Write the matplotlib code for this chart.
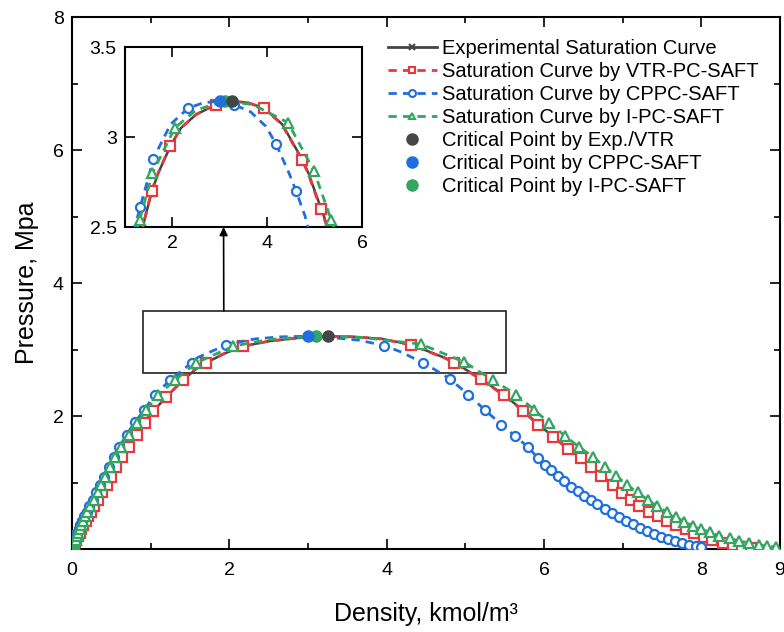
import numpy as np
import matplotlib
matplotlib.use('Agg')
import matplotlib.pyplot as plt
from matplotlib.lines import Line2D
from matplotlib.patches import Rectangle
from matplotlib.ticker import MultipleLocator, FormatStrFormatter

plt.rcParams['font.family'] = ['Liberation Sans', 'DejaVu Sans']

# ---- data (density kmol/m3, pressure MPa) ----
# levels of pressure along the vapour branch
p_vap = [0.02, 0.04, 0.07, 0.10, 0.14, 0.19, 0.24, 0.30, 0.36, 0.42, 0.49, 0.56, 0.64, 0.74,
         0.85, 0.96, 1.09, 1.23, 1.38, 1.53, 1.71, 1.89, 2.07, 2.29, 2.54, 2.80, 3.05]

# experimental
rho_exp = [0.008, 0.016, 0.027, 0.040, 0.057, 0.076, 0.097, 0.121, 0.146, 0.173, 0.206, 0.242,
           0.282, 0.332, 0.387, 0.442, 0.502, 0.567, 0.642, 0.722, 0.832, 0.932, 1.032, 1.202,
           1.412, 1.702, 2.18,
           4.32, 4.87, 5.21, 5.50, 5.74, 5.93, 6.12, 6.31, 6.48, 6.61, 6.74, 6.89, 7.00, 7.12,
           7.22, 7.35, 7.46, 7.58, 7.69, 7.81, 7.92, 8.05, 8.15, 8.28, 8.41, 8.53, 8.64]
p_exp = p_vap + [3.07, 2.80, 2.55, 2.31, 2.08, 1.87, 1.69, 1.51, 1.37, 1.24, 1.10, 0.96, 0.84,
                 0.74, 0.64, 0.56, 0.49, 0.42, 0.36, 0.30, 0.24, 0.18, 0.14, 0.09, 0.06, 0.03,
                 0.015]
rho_exp_zoom = [1.57, 1.96, 2.92, 3.94, 4.75, 5.14]
p_exp_zoom = [2.70, 2.95, 3.18, 3.16, 2.87, 2.60]
rho_exp_ext = [0.0, 2.5, 3.6, 8.75]
p_exp_ext = [0.0, 3.125, 3.19, 0.0]

# VTR-PC-SAFT
rho_vtr = [0.008, 0.016, 0.027, 0.040, 0.056, 0.075, 0.096, 0.12, 0.145, 0.172, 0.205, 0.24,
           0.28, 0.33, 0.385, 0.44, 0.50, 0.565, 0.64, 0.72, 0.83, 0.93, 1.03, 1.20, 1.41,
           1.70, 2.18,
           4.31, 4.86, 5.20, 5.49, 5.73, 5.92, 6.11, 6.30, 6.47, 6.60, 6.73, 6.88, 6.99, 7.11,
           7.21, 7.34, 7.45, 7.57, 7.68, 7.80, 7.91, 8.04, 8.14, 8.27, 8.40, 8.52, 8.63]
p_vtr = p_vap + [3.07, 2.80, 2.55, 2.31, 2.08, 1.87, 1.69, 1.51, 1.37, 1.24, 1.10, 0.96, 0.84,
                 0.74, 0.64, 0.56, 0.49, 0.42, 0.36, 0.30, 0.24, 0.18, 0.14, 0.09, 0.06, 0.03,
                 0.015]
rho_vtr_zoom = [1.56, 1.95, 2.91, 3.93, 4.74, 5.13]
p_vtr_zoom = [2.70, 2.95, 3.18, 3.16, 2.87, 2.60]
rho_vtr_ext = [0.0, 2.5, 3.6, 8.75]
p_vtr_ext = [0.0, 3.125, 3.19, 0.0]

# CPPC-SAFT
rho_cppc = [0.005, 0.011, 0.019, 0.028, 0.040, 0.054, 0.070, 0.089, 0.108, 0.13, 0.157, 0.185,
            0.22, 0.262, 0.31, 0.355, 0.405, 0.465, 0.53, 0.60, 0.695, 0.80, 0.92, 1.05, 1.25,
            1.52, 1.96,
            3.97, 4.46, 4.80, 5.04, 5.25, 5.46, 5.63, 5.80, 5.92, 6.01, 6.09, 6.18, 6.26, 6.35,
            6.43, 6.51, 6.60, 6.68, 6.77, 6.86, 6.95, 7.04, 7.13, 7.22, 7.31, 7.40, 7.49, 7.58,
            7.67, 7.76, 7.85, 7.93, 8.00]
p_cppc = [0.02, 0.04, 0.07, 0.10, 0.14, 0.19, 0.24, 0.30, 0.36, 0.42, 0.49, 0.56, 0.64, 0.74,
          0.85, 0.96, 1.09, 1.23, 1.38, 1.53, 1.72, 1.91, 2.09, 2.32, 2.54, 2.80, 3.07,
          3.06, 2.80, 2.56, 2.32, 2.09, 1.87, 1.70, 1.53, 1.37, 1.27, 1.19, 1.10, 1.02, 0.94,
          0.87, 0.80, 0.73, 0.67, 0.60, 0.54, 0.48, 0.42, 0.37, 0.32, 0.27, 0.22, 0.18, 0.145,
          0.115, 0.09, 0.065, 0.05, 0.035]
rho_cppc_zoom = [1.32, 1.60, 2.33, 3.30, 4.19, 4.61]
p_cppc_zoom = [2.61, 2.88, 3.16, 3.18, 2.96, 2.70]
rho_cppc_ext = [0.0, 2.65, 3.65, 8.05]
p_cppc_ext = [0.0, 3.19, 3.14, 0.0]

# I-PC-SAFT
rho_ipc = [0.006, 0.013, 0.022, 0.032, 0.045, 0.060, 0.077, 0.097, 0.118, 0.14, 0.168, 0.197,
           0.232, 0.275, 0.325, 0.37, 0.42, 0.48, 0.55, 0.62, 0.72, 0.83, 0.94, 1.10, 1.31,
           1.58, 2.05,
           4.44, 4.99, 5.35, 5.65, 5.88, 6.07, 6.27, 6.45, 6.62, 6.77, 6.92, 7.06, 7.19, 7.32,
           7.44, 7.56, 7.68, 7.78, 7.89, 8.00, 8.11, 8.23, 8.36, 8.48, 8.61, 8.74, 8.84, 8.95]
p_ipc = [0.02, 0.04, 0.07, 0.10, 0.14, 0.19, 0.24, 0.30, 0.36, 0.42, 0.49, 0.56, 0.64, 0.74,
         0.85, 0.96, 1.09, 1.23, 1.38, 1.53, 1.72, 1.89, 2.09, 2.32, 2.54, 2.80, 3.05,
         3.08, 2.81, 2.54, 2.32, 2.09, 1.89, 1.70, 1.53, 1.39, 1.24, 1.10, 0.96, 0.85, 0.74,
         0.64, 0.56, 0.48, 0.41, 0.35, 0.30, 0.25, 0.20, 0.16, 0.12, 0.09, 0.06, 0.045, 0.03]
rho_ipc_zoom = [1.31, 1.58, 2.05, 4.44, 4.99, 5.35]
p_ipc_zoom = [2.54, 2.80, 3.05, 3.08, 2.81, 2.54]
rho_ipc_ext = [0.0, 2.5, 3.7, 9.0]
p_ipc_ext = [0.0, 3.15, 3.18, 0.02]

# critical points
rho_crit = [3.25, 3.00, 3.10]
p_crit = [3.20, 3.20, 3.20]

GRAY, RED, BLUE, GREEN = '#454545', '#e8383d', '#1f6fdc', '#33a661'

series = [
    dict(label='Experimental Saturation Curve', color=GRAY, ls='-', marker='x', ms=6, mfc=GRAY,
         m=(rho_exp, p_exp), z=(rho_exp_zoom, p_exp_zoom), e=(rho_exp_ext, p_exp_ext)),
    dict(label='Saturation Curve by VTR-PC-SAFT', color=RED, ls=(0, (3, 2.2)), marker='s', ms=6.5,
         mfc='white', m=(rho_vtr, p_vtr), z=(rho_vtr_zoom, p_vtr_zoom), e=(rho_vtr_ext, p_vtr_ext)),
    dict(label='Saturation Curve by CPPC-SAFT', color=BLUE, ls=(0, (3, 2.2)), marker='o', ms=6.5,
         mfc='white', m=(rho_cppc, p_cppc), z=(rho_cppc_zoom, p_cppc_zoom),
         e=(rho_cppc_ext, p_cppc_ext)),
    dict(label='Saturation Curve by I-PC-SAFT', color=GREEN, ls=(0, (3, 2.2)), marker='^', ms=7.5,
         mfc='white', m=(rho_ipc, p_ipc), z=(rho_ipc_zoom, p_ipc_zoom), e=(rho_ipc_ext, p_ipc_ext)),
]
crit_labels = ['Critical Point by Exp./VTR', 'Critical Point by CPPC-SAFT',
               'Critical Point by I-PC-SAFT']
crit_colors = [GRAY, BLUE, GREEN]


def full_curve(s, k):
    # line goes through every point read for the series, ordered by density
    x = np.concatenate([s['m'][0], s['z'][0], s['e'][0], [rho_crit[k]]])
    y = np.concatenate([s['m'][1], s['z'][1], s['e'][1], [p_crit[k]]])
    x, idx = np.unique(x, return_index=True)
    return x, y[idx]


crit_of = [0, 0, 1, 2]


def draw(ax, key, ms_scale=1.0):
    for k, s in enumerate(series):
        x, y = full_curve(s, crit_of[k])
        ax.plot(x, y, color=s['color'], ls=s['ls'], lw=2 if k else 1.8, zorder=2 + k)
        mx, my = s[key]
        ax.plot(mx, my, ls='none', marker=s['marker'], ms=s['ms'] * ms_scale, mfc=s['mfc'],
                mec=s['color'], mew=1.6, zorder=2 + k)
    for k in range(3):
        ax.plot(rho_crit[k], p_crit[k], 'o', color=crit_colors[k], ms=8 * ms_scale, zorder=10 - k)


def style(ax):
    ax.tick_params(which='both', direction='in', top=True, right=True, labelsize=14, width=1.2,
                   pad=6)
    ax.tick_params(which='major', length=7)
    ax.tick_params(which='minor', length=4)
    for sp in ax.spines.values():
        sp.set_linewidth(1.5)


fig = plt.figure(figsize=(7.84, 6.32), dpi=100)
ax = fig.add_axes([0.0918, 0.1313, 0.903, 0.8418])
draw(ax, 'm')
ax.set_xlim(0, 9)
ax.set_ylim(0, 8)
ax.set_xticks([0, 2, 4, 6, 8, 9])
ax.xaxis.set_minor_locator(MultipleLocator(1))
ax.set_yticks([2, 4, 6, 8])
ax.yaxis.set_minor_locator(MultipleLocator(1))
style(ax)
ax.tick_params(axis='x', pad=9)
ax.set_xlabel('Density, kmol/m³', fontsize=18, labelpad=17)
ax.set_ylabel('Pressure, Mpa', fontsize=18, labelpad=10)

ax.add_patch(Rectangle((0.90, 2.65), 4.62, 0.93, fill=False, ec='#222222', lw=1.2, zorder=1))

handles = [Line2D([], [], color=s['color'], ls=s['ls'], lw=2, marker=s['marker'], ms=5,
                  mfc=s['mfc'], mec=s['color'], mew=1.5) for s in series]
handles += [Line2D([], [], ls='none', marker='o', ms=8, color=c) for c in crit_colors]
labels = [s['label'] for s in series] + crit_labels
ax.legend(handles, labels, loc='upper right', bbox_to_anchor=(0.975, 0.966), frameon=False,
          fontsize=14.5, handlelength=2.4, handletextpad=0.25, labelspacing=0.2,
          borderaxespad=0.0, borderpad=0.2)

axin = fig.add_axes([0.1594, 0.6408, 0.3023, 0.2848])
draw(axin, 'z')
axin.set_xlim(1, 6)
axin.set_ylim(2.5, 3.5)
axin.set_xticks([2, 4, 6])
axin.set_yticks([2.5, 3, 3.5])
axin.yaxis.set_major_formatter(FormatStrFormatter('%g'))
style(axin)

ax.annotate('', xy=(3.08, 2.5), xycoords=axin.transData, xytext=(1.93, 3.58),
            textcoords=ax.transData,
            arrowprops=dict(arrowstyle='-|>', color='k', lw=1.2, shrinkA=0, shrinkB=0,
                            mutation_scale=12))

fig.savefig('out.png', dpi=100)
